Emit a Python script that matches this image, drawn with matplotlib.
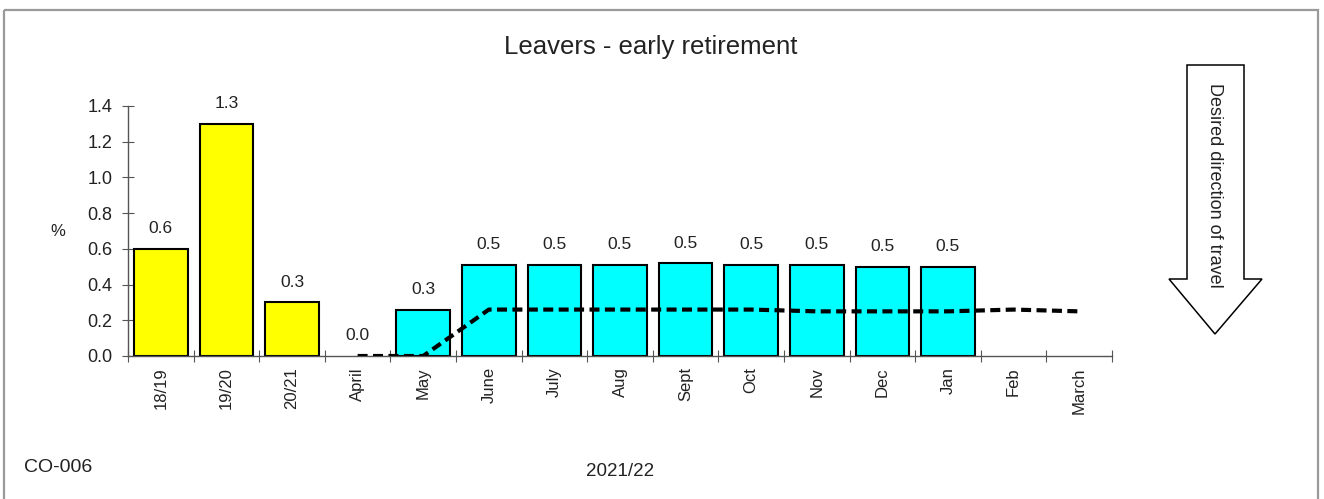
import numpy as np
import matplotlib
matplotlib.use('Agg')
import matplotlib.pyplot as plt
from matplotlib.patches import Polygon, Rectangle

# 데이터
periods = ['18/19', '19/20', '20/21', 'April', 'May', 'June', 'July', 'Aug',
           'Sept', 'Oct', 'Nov', 'Dec', 'Jan', 'Feb', 'March']
annual_vals = [0.6, 1.3, 0.3]                       # 18/19 .. 20/21
monthly_vals = [0.0, 0.26, 0.51, 0.51, 0.51, 0.52,  # April .. Jan
                0.51, 0.51, 0.50, 0.50]
trend_vals = [0.0, 0.0, 0.26, 0.26, 0.26, 0.26,     # April .. March
              0.26, 0.25, 0.25, 0.25, 0.26, 0.25]

plt.rcParams['font.family'] = ['Liberation Sans', 'DejaVu Sans']

W, H = 1324, 499
fig = plt.figure(figsize=(W / 100, H / 100), dpi=100)
fig.patch.set_facecolor('white')

# 바깥 장식용 (픽셀 좌표)
deco = fig.add_axes([0, 0, 1, 1])
deco.set_xlim(0, W)
deco.set_ylim(H, 0)
deco.axis('off')
deco.add_patch(Rectangle((4, 10), 1314, 520, fill=False, edgecolor='#9a9a9a', lw=1.6))
arrow = Polygon([(1187, 65), (1244, 65), (1244, 279), (1262, 279), (1215, 334),
                 (1169, 279), (1187, 279)], closed=True, facecolor='white',
                edgecolor='black', lw=1.1)
deco.add_patch(arrow)
deco.text(1215, 185, 'Desired direction of travel', rotation=-90, ha='center',
          va='center', fontsize=13, color='#222222')
deco.text(651, 47, 'Leavers - early retirement', ha='center', va='center', fontsize=18.5,
          color='#222222')
deco.text(58, 232, '%', ha='center', va='center', fontsize=12, color='#222222')
deco.text(24, 468, 'CO-006', ha='left', va='center', fontsize=14, color='#222222')
deco.text(620, 472, '2021/22', ha='center', va='center', fontsize=13.5, color='#222222')

ax = fig.add_axes([128 / W, 143 / H, 984 / W, 250 / H])
ax.patch.set_alpha(0)

x = np.arange(len(periods))
n_ann = len(annual_vals)
x_ann = x[:n_ann]
x_mon = x[n_ann:n_ann + len(monthly_vals)]
x_trend = x[n_ann:n_ann + len(trend_vals)]

b1 = ax.bar(x_ann, annual_vals, width=0.82, color='#ffff00', edgecolor='black', lw=1.5, zorder=2)
b2 = ax.bar(x_mon, monthly_vals, width=0.82, color='#00ffff', edgecolor='black', lw=1.5, zorder=2)
for rect, v in zip(list(b1) + list(b2), annual_vals + monthly_vals):
    if v == 0:
        rect.set_linewidth(0)
    ax.annotate(f'{v:.1f}', (rect.get_x() + rect.get_width() / 2, v), xytext=(0, 9),
                textcoords='offset points', ha='center', va='bottom', fontsize=12.5,
                color='#222222')

ax.plot(x_trend, trend_vals, color='black', lw=3, linestyle=(0, (2.4, 1.3)), zorder=3)

ax.set_xlim(-0.5, len(periods) - 0.5)
ax.set_ylim(0, 1.4)
ax.set_yticks(np.arange(0, 1.41, 0.2))
ax.set_yticklabels([f'{t:.1f}' for t in np.arange(0, 1.41, 0.2)])
ax.set_xticks(np.arange(-0.5, len(periods), 1.0))
ax.set_xticklabels([])
ax.set_xticks(x, minor=True)
ax.set_xticklabels(periods, minor=True, rotation=90, fontsize=12, color='#222222')
ax.tick_params(axis='x', which='minor', length=0, pad=8)
ax.tick_params(axis='x', which='major', direction='inout', length=8, color='#555555')
ax.tick_params(axis='y', direction='inout', length=8, color='#555555', pad=7,
               labelsize=13, labelcolor='#222222')

for s in ['top', 'right']:
    ax.spines[s].set_visible(False)
for s in ['left', 'bottom']:
    ax.spines[s].set_color('#555555')
    ax.spines[s].set_linewidth(1)

fig.savefig('out.png', dpi=100)
